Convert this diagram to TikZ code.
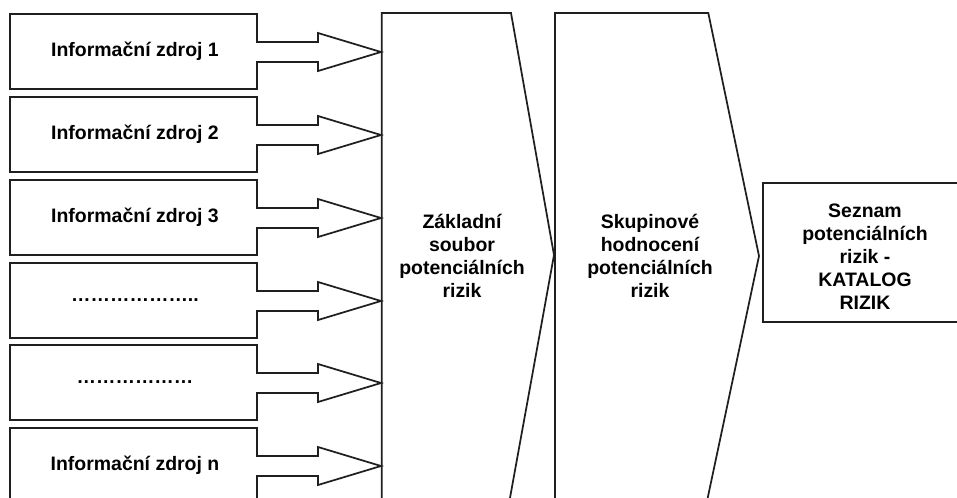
\documentclass[tikz,border=0pt]{standalone}
\usepackage{fontspec}
\setmainfont{Liberation Sans}
\begin{document}
\begin{tikzpicture}[x=0.75pt,y=-0.75pt,
  shapeline/.style={draw=black!88,line width=1.3pt,line join=miter},
  lbl/.style={font=\fontsize{14.6pt}{17.25pt}\selectfont\bfseries,align=center,inner sep=0pt}]
\useasboundingbox (0,0) rectangle (957,497);
\clip (0,0) rectangle (957,497);
% left source boxes with arrows
\foreach \t/\name/\txt in {14/s1/{Informační zdroj 1},97/s2/{Informační zdroj 2},180/s3/{Informační zdroj 3},263/s4/{………………..},345/s5/{………………},428/s6/{Informační zdroj n}}{
  \draw[shapeline] (10,\t) -- (257,\t) -- (257,\t+28) -- (318,\t+28) -- (318,\t+19)
    -- (381,\t+38) -- (318,\t+57) -- (318,\t+48) -- (257,\t+48) -- (257,\t+75)
    -- (10,\t+75) -- cycle;
  \node[lbl] (\name) at (135,\t+37.5) {\txt};
}
% chevron 1
\draw[shapeline] (381.7,520) -- (381.7,13) -- (511,13) -- (554,255) -- (506,520);
\node[lbl] (zakl) at (462,256) {Základní\\soubor\\potenciálních\\rizik};
% chevron 2
\draw[shapeline] (555,520) -- (555,13) -- (708.3,13) -- (759,256) -- (703,520);
\node[lbl] (skup) at (650,256) {Skupinové\\hodnocení\\potenciálních\\rizik};
% right box
\draw[shapeline] (763,183) rectangle (975,322);
\node[lbl] (kat) at (865,257) {Seznam\\potenciálních\\rizik -\\KATALOG\\RIZIK};
\end{tikzpicture}
\end{document}
